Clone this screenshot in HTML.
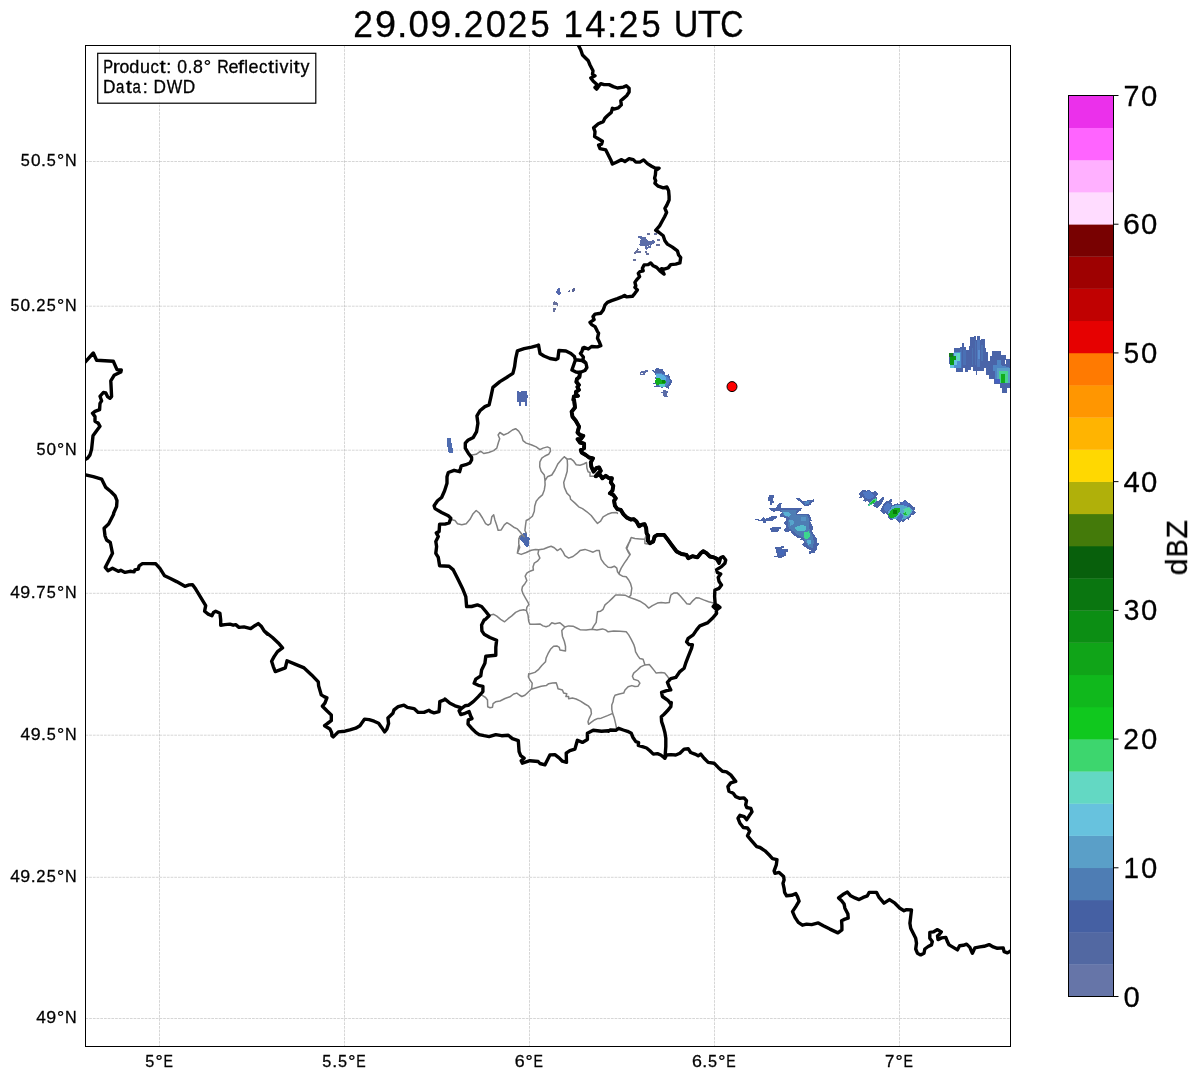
<!DOCTYPE html>
<html><head><meta charset="utf-8"><title>Radar</title>
<style>html,body{margin:0;padding:0;background:#fff}svg{display:block}text{font-family:"Liberation Sans",sans-serif;fill:#000;stroke:#000;stroke-width:.3px}.t{opacity:.999}</style></head><body>
<svg width="1202" height="1081" viewBox="0 0 1202 1081">
<rect width="1202" height="1081" fill="#fff"/>
<defs><clipPath id="ax"><rect x="85.5" y="45.5" width="925.0" height="1001.0"/></clipPath></defs>
<path d="M159.5 45.5V1046.5M344.5 45.5V1046.5M529.5 45.5V1046.5M714.5 45.5V1046.5M899.5 45.5V1046.5M85.5 161.5H1010.5M85.5 306.2H1010.5M85.5 450.2H1010.5M85.5 593.3H1010.5M85.5 735.2H1010.5M85.5 877.3H1010.5M85.5 1018.5H1010.5" stroke="#808080" stroke-width="0.65" stroke-dasharray="2.7 1.0" fill="none" opacity="0.5"/>
<g clip-path="url(#ax)">
<g shape-rendering="crispEdges"><polygon points="949.0,353.0 954.3,353.0 954.3,348.0 960.0,348.0 960.0,347.3 962.0,347.3 962.0,343.0 964.0,343.0 964.0,347.3 966.0,347.3 966.0,350.3 969.3,350.3 969.3,346.0 970.3,346.0 970.3,337.0 974.0,337.0 974.0,336.0 976.0,336.0 976.0,340.0 977.3,340.0 977.3,336.0 980.0,336.0 980.0,340.0 981.3,340.0 981.3,339.0 984.6,339.0 984.6,348.0 986.0,348.0 986.0,352.0 988.0,352.0 988.0,361.3 990.0,361.3 990.0,356.0 992.0,356.0 992.0,351.0 1001.0,351.0 1001.0,355.0 1006.0,355.0 1006.0,359.0 1011.3,359.0 1011.3,388.0 1006.6,388.0 1006.6,392.6 1002.0,392.6 1002.0,387.6 1000.3,387.6 1000.3,383.6 994.3,383.6 994.3,378.6 989.3,378.6 989.3,374.6 986.3,374.6 986.3,368.0 984.0,368.0 984.0,370.6 977.0,370.6 977.0,374.6 976.0,374.6 976.0,370.6 973.3,370.6 973.3,367.0 971.0,367.0 971.0,370.0 968.0,370.0 968.0,371.6 965.0,371.6 965.0,368.0 963.0,368.0 963.0,371.6 956.3,371.6 956.3,368.0 950.0,368.0 950.0,364.0 949.0,364.0" fill="#4A64A8"/><polygon points="1005.0,360.0 1006.1,360.0 1006.1,364.3 1005.0,364.3" fill="#fff"/><polygon points="974.6,341.3 976.3,341.3 976.3,365.3 974.6,365.3" fill="#4C72B2"/><polygon points="977.3,340.0 980.0,340.0 980.0,366.6 977.3,366.6" fill="#5078BC"/><polygon points="978.3,350.0 980.0,350.0 980.0,358.6 978.3,358.6" fill="#5A8ED0"/><polygon points="981.3,344.7 982.6,344.7 982.6,361.3 981.3,361.3" fill="#4C72B2"/><polygon points="960.0,348.7 962.0,348.7 962.0,368.0 960.0,368.0" fill="#4A70B4"/><polygon points="963.3,350.0 966.0,350.0 966.0,365.3 963.3,365.3" fill="#4A70B4"/><polygon points="972.0,348.0 973.3,348.0 973.3,365.3 972.0,365.3" fill="#4C72B2"/><polygon points="954.3,352.0 960.7,352.0 960.7,368.0 954.3,368.0" fill="#4F8FD0"/><polygon points="955.0,352.7 960.0,352.7 960.0,361.3 955.0,361.3" fill="#63D8C3"/><polygon points="954.3,353.3 956.7,353.3 956.7,365.3 954.3,365.3" fill="#67C2DE"/><polygon points="950.0,364.3 954.3,364.3 954.3,368.3 950.0,368.3" fill="#67C2DE"/><polygon points="949.0,353.0 953.3,353.0 953.3,356.0 956.0,356.0 956.0,360.0 954.3,360.0 954.3,364.6 950.0,364.6 950.0,356.6 949.0,356.6" fill="#0B9A14"/><polygon points="949.0,353.0 953.3,353.0 953.3,356.6 949.0,356.6" fill="#157A1C"/><polygon points="992.6,365.3 996.6,365.3 996.6,360.0 1001.3,360.0 1001.3,365.3 1011.3,368.0 1011.3,383.3 998.6,383.3 998.6,379.3 994.6,379.3 994.6,370.6 992.6,370.6" fill="#4F86C4"/><polygon points="996.6,368.0 1010.6,368.0 1010.6,383.3 996.6,383.3" fill="#5A9FC8"/><polygon points="999.0,370.6 1007.6,370.6 1007.6,383.3 999.0,383.3" fill="#48D490"/><polygon points="1001.3,374.0 1005.2,374.0 1005.2,383.3 1001.3,383.3" fill="#12AE1C"/><polygon points="995.3,379.3 1000.0,379.3 1000.0,383.3 995.3,383.3" fill="#4560C0"/><polygon points="769.0,495.3 773.7,495.3 773.7,498.0 772.7,498.0 772.7,501.3 773.7,501.3 773.7,502.7 771.7,502.7 771.7,504.7 770.0,504.7 770.0,501.3 768.3,501.3 768.3,497.3 769.0,497.3" fill="#4A64A8"/><polygon points="796.3,498.0 799.3,498.0 801.3,499.3 802.6,500.7 806.6,500.7 808.0,500.0 812.0,499.7 814.0,499.3 814.6,501.0 812.0,502.3 810.6,504.7 808.6,506.0 806.0,506.3 803.3,505.3 802.0,503.3 800.6,501.7 798.0,500.7 796.3,499.0" fill="#4A64A8"/><polygon points="804.0,501.7 810.0,501.0 808.6,504.0 805.3,504.7" fill="#4F86C4"/><polygon points="769.3,508.3 776.0,508.3 777.3,504.7 779.3,503.3 781.6,503.3 781.3,505.7 780.6,508.0 801.6,508.0 801.3,510.7 798.0,512.0 796.6,514.3 808.6,514.3 811.0,517.3 811.6,520.6 810.0,521.3 811.3,524.0 813.3,527.3 813.6,529.3 812.0,530.6 814.0,534.6 816.6,538.6 816.6,542.6 818.6,543.3 818.6,545.3 816.6,546.0 817.6,550.0 815.6,550.6 814.6,553.3 809.3,553.6 809.3,551.3 811.3,550.3 807.3,548.6 804.6,546.6 802.0,544.6 804.0,542.6 803.3,540.6 800.0,540.0 802.0,537.6 796.6,537.6 795.3,536.0 792.6,534.6 791.3,532.3 790.0,530.0 789.3,532.0 786.0,532.3 784.3,530.6 784.3,529.3 786.0,528.0 786.0,525.3 784.3,524.0 784.3,522.3 786.3,520.3 786.0,518.6 783.3,517.3 779.3,516.3 780.0,514.3 782.0,512.0 778.6,511.0 776.0,511.0 774.3,512.3 772.7,511.3 770.7,510.0 769.3,509.0" fill="#4A64A8"/><polygon points="781.3,510.0 796.6,510.0 796.0,514.6 807.3,515.3 809.3,520.0 808.6,525.3 810.0,530.6 812.0,534.6 814.0,541.3 812.6,548.0 808.6,546.6 806.0,542.6 803.3,537.3 796.6,534.6 792.6,530.6 788.6,528.0 788.0,521.3 790.0,518.0 784.6,516.0 782.0,512.7" fill="#4E7DB4"/><polygon points="783.3,512.0 788.6,511.7 790.6,514.6 788.6,516.6 784.6,515.6" fill="#58B0D4"/><polygon points="801.3,517.0 805.6,517.0 805.6,520.6 801.3,520.6" fill="#5694C4"/><polygon points="789.3,520.0 793.3,520.0 794.0,524.0 790.0,526.0" fill="#56A4CC"/><polygon points="794.0,528.0 798.0,526.0 803.3,524.6 806.3,527.0 806.3,530.3 802.0,531.0 797.0,531.0" fill="#54BCCC"/><polygon points="804.0,532.0 809.3,531.3 810.0,536.0 808.0,539.3 804.6,538.6" fill="#3DD68E"/><polygon points="806.6,540.3 811.0,540.3 811.3,543.6 808.3,544.6" fill="#58B0D4"/><polygon points="755.3,519.0 758.7,519.0 760.0,520.0 762.0,518.6 763.0,517.3 764.3,517.3 765.0,518.6 767.3,518.3 771.3,516.3 776.6,516.3 776.6,518.3 774.7,519.3 773.3,520.6 769.3,520.6 766.0,521.3 765.7,522.6 763.3,522.6 762.7,521.0 760.0,521.3 758.0,520.6 758.0,519.6 755.3,519.6" fill="#4A64A8"/><polygon points="770.3,528.0 772.7,527.3 780.6,527.3 780.6,528.6 778.6,529.3 778.6,531.3 776.0,532.3 771.3,532.3 771.3,530.6 770.3,530.0" fill="#4A64A8"/><polygon points="775.3,547.3 779.3,547.3 781.3,546.3 783.6,546.3 783.6,547.6 782.0,548.3 782.6,549.3 787.6,549.3 787.6,551.6 786.0,552.0 786.0,556.0 783.3,556.6 781.3,558.3 778.6,558.3 777.3,557.3 774.3,557.0 774.3,556.0 776.6,555.6 776.6,553.3 775.6,551.3 775.6,549.3" fill="#4A64A8"/><polygon points="778.0,550.0 784.6,550.0 784.0,554.6 779.3,555.3" fill="#4468B8"/><polygon points="859.3,493.3 862.0,490.3 865.3,490.3 866.7,491.3 867.7,490.0 869.7,490.0 872.0,492.3 874.3,491.3 876.3,491.3 877.6,493.3 877.6,495.3 876.3,496.7 877.3,498.0 876.6,499.3 878.0,501.3 881.3,498.7 883.0,497.0 884.0,497.7 884.0,499.3 882.6,501.6 881.0,504.6 879.3,506.6 877.0,508.6 875.3,507.3 873.3,506.0 873.7,504.0 871.3,504.6 868.7,506.6 868.0,505.3 869.3,503.0 867.3,501.3 864.7,501.6 863.3,500.7 864.3,499.0 862.3,497.3 860.0,498.7 859.0,497.7 860.7,496.0 859.3,494.7" fill="#4A64A8"/><polygon points="862.7,492.0 869.3,491.3 874.7,496.0 870.0,499.3 865.3,498.0" fill="#4F78C4"/><polygon points="868.0,505.6 869.3,503.0 872.0,500.0 875.3,498.3 877.0,499.7 876.0,502.0 873.3,503.6 870.7,505.0 869.0,506.6" fill="#48D490"/><polygon points="869.3,504.3 872.0,501.0 875.3,499.3 875.6,501.3 873.0,503.0 870.3,504.6" fill="#1CBE30"/><polygon points="880.3,510.6 882.0,507.3 884.0,503.3 886.3,500.7 888.3,501.6 890.0,499.3 892.0,499.3 892.6,501.3 891.3,502.6 892.6,505.3 895.3,504.0 897.3,503.3 899.3,504.6 900.6,502.0 902.6,501.6 905.0,500.0 906.6,500.7 908.6,502.6 911.3,504.6 913.0,506.6 915.0,507.0 915.0,509.3 914.0,510.6 916.0,512.0 915.6,513.3 913.6,514.6 911.3,515.3 910.0,517.3 908.6,519.6 906.6,519.0 905.3,520.0 903.3,522.0 901.6,521.3 899.3,523.0 897.6,521.3 896.0,519.6 894.0,518.6 891.3,520.6 889.3,519.3 887.3,517.3 888.0,515.3 886.0,513.0 883.3,514.0 881.3,512.3" fill="#4A64A8"/><polygon points="883.3,508.0 887.3,502.6 891.3,504.6 890.0,509.3 886.0,512.0" fill="#4F78C4"/><polygon points="888.0,512.0 892.6,506.0 898.0,504.6 903.3,505.3 910.0,507.3 912.6,510.6 910.0,515.3 906.0,518.6 900.6,520.0 896.6,518.6 892.6,518.6 889.3,516.6" fill="#54A8CC"/><polygon points="900.6,502.6 906.0,501.3 910.0,505.3 904.6,506.0" fill="#4A6CC0"/><polygon points="896.6,518.6 900.6,513.3 903.3,516.0 900.6,521.3" fill="#4A6CC0"/><polygon points="903.3,509.3 908.6,507.3 911.3,510.6 908.6,515.3 904.6,516.6" fill="#50D8A0"/><polygon points="888.3,514.6 891.3,510.0 895.3,507.6 899.6,508.3 899.6,512.0 897.0,515.6 893.3,518.3 890.0,517.6" fill="#14AE20"/><polygon points="892.6,510.3 897.0,510.3 897.0,514.3 892.6,514.3" fill="#067A08"/><polygon points="903.3,513.3 906.0,512.3 906.6,514.6 904.0,515.6" fill="#20B838"/><polygon points="640.0,372.5 641.5,371.2 644.5,370.7 647.5,370.0 647.7,371.5 646.0,372.5 644.7,374.5 642.0,375.0 640.7,375.7 640.0,375.0" fill="#5A6CA8"/><polygon points="641.2,372.7 642.5,372.7 642.5,374.0 641.2,374.0" fill="#fff"/><polygon points="652.2,370.2 653.5,370.0 654.7,371.7 655.5,369.0 657.0,368.0 659.0,368.2 660.0,369.2 662.7,369.2 663.0,371.0 664.5,372.0 665.2,374.5 667.0,375.0 668.5,374.2 669.0,376.0 670.0,376.5 669.7,378.0 670.7,378.7 670.5,380.0 671.7,380.5 672.0,382.5 671.0,384.0 669.5,385.5 669.0,387.0 668.5,388.7 667.0,388.2 666.0,387.2 664.0,387.0 663.0,387.7 660.5,387.5 659.5,386.5 656.5,386.5 654.5,386.7 654.2,386.0 656.0,385.5 655.5,383.5 653.2,383.5 655.0,382.7 655.2,381.0 656.0,379.5 654.5,378.5 654.5,377.2 655.7,376.7 655.5,375.0 654.5,374.5 654.5,373.0 653.0,371.7" fill="#4A64A8"/><polygon points="656.0,373.0 660.0,372.5 664.5,374.5 668.0,377.0 670.0,381.0 668.0,385.0 665.0,386.5 659.0,386.0 656.0,380.0" fill="#4F80C8"/><polygon points="656.0,374.5 660.0,373.5 664.0,375.5 666.0,378.0 666.0,380.0 656.0,379.0" fill="#5AB0E0"/><polygon points="658.5,383.5 665.0,383.5 664.5,387.0 660.0,387.0" fill="#58C8C8"/><polygon points="656.0,378.0 659.0,377.7 661.0,379.7 665.0,380.0 665.7,382.0 665.0,384.0 662.0,383.5 659.0,384.5 657.0,385.5 655.5,383.5 655.2,381.0" fill="#12AE1C"/><polygon points="661.5,380.2 665.0,380.2 665.0,383.1 661.5,383.1" fill="#068A08"/><polygon points="662.5,390.2 665.5,390.2 666.0,391.2 667.7,391.5 667.7,392.5 666.7,393.0 666.7,395.7 667.7,396.2 667.5,397.0 665.7,397.2 665.0,397.7 664.0,397.2 663.2,395.0 662.7,393.2 661.2,393.0 661.2,392.2 662.5,391.7" fill="#5A6CA8"/><polygon points="638.2,236.2 641.5,236.2 642.2,237.2 645.5,237.2 646.0,238.7 647.0,240.0 649.0,241.2 651.2,241.0 652.5,239.5 654.0,239.5 654.7,241.0 654.7,242.5 653.5,243.5 652.2,244.7 651.0,246.0 651.0,247.5 648.5,248.0 647.0,249.5 645.5,249.5 645.2,247.0 644.0,246.0 642.0,245.5 641.0,246.7 639.5,245.5 639.2,244.5 640.5,243.2 640.2,241.0 641.0,239.0 640.0,238.2 638.2,238.5" fill="#5A6CA8"/><polygon points="647.0,246.0 648.2,246.0 648.2,247.2 647.0,247.2" fill="#fff"/><polygon points="649.0,245.0 650.0,245.0 650.0,246.0 649.0,246.0" fill="#fff"/><polygon points="647.2,232.5 649.7,232.5 649.7,234.5 647.2,234.5" fill="#66709C"/><polygon points="654.2,233.2 656.5,233.2 656.5,235.2 654.2,235.2" fill="#66709C"/><polygon points="657.0,239.2 659.7,239.2 659.7,240.7 657.0,240.7" fill="#66709C"/><polygon points="656.2,244.2 659.7,244.2 659.7,245.7 656.2,245.7" fill="#66709C"/><polygon points="644.5,251.2 646.7,251.2 646.7,252.5 644.5,252.5" fill="#66709C"/><polygon points="646.2,253.2 648.7,253.2 648.7,254.7 646.2,254.7" fill="#66709C"/><polygon points="633.2,259.2 635.7,259.2 635.7,260.7 633.2,260.7" fill="#66709C"/><polygon points="634.2,252.0 636.5,250.0 637.7,248.2 638.7,248.7 638.2,251.0 640.7,251.2 640.7,252.7 635.7,252.7 635.5,253.7 634.2,253.7" fill="#66709C"/><polygon points="557.2,289.2 558.2,288.2 559.7,288.2 560.0,291.5 561.0,292.5 560.5,294.0 559.2,294.7 557.5,294.5 556.2,293.0 556.2,291.5" fill="#5468AE"/><polygon points="568.2,291.2 569.5,290.2 570.7,290.7 570.0,292.2 568.7,292.7" fill="#5A6496"/><polygon points="572.2,289.5 573.5,288.2 574.7,288.5 575.0,290.2 573.7,291.7 572.5,291.7" fill="#5A6496"/><polygon points="553.2,302.2 554.7,301.2 556.0,302.0 557.5,302.7 557.7,305.5 557.0,306.0 555.5,304.5 553.2,304.5" fill="#66709C"/><polygon points="553.2,308.5 555.7,308.2 555.7,310.0 554.7,311.5 553.2,311.7" fill="#66709C"/><polygon points="516.5,391.1 519.0,391.1 519.0,392.4 520.5,392.4 520.5,391.1 527.0,391.1 527.0,394.9 528.0,394.9 528.0,397.9 527.0,397.9 527.0,405.9 525.0,405.9 525.0,401.9 521.0,401.9 521.0,405.9 519.0,405.9 519.0,402.4 517.0,402.4 517.0,398.9 516.5,398.9" fill="#5068AC"/><polygon points="447.2,438.1 450.6,438.1 451.0,443.1 452.2,443.7 452.5,448.1 453.1,452.5 448.7,453.5 448.1,449.3 447.2,445.0" fill="#4E6CB0"/><polygon points="518.7,536.1 521.8,534.9 525.5,531.8 526.8,533.7 527.4,536.8 530.5,538.6 528.7,541.8 528.7,546.1 526.8,547.4 523.7,543.6 521.2,540.5 518.9,538.6" fill="#4A68AE"/></g>
<path d="M471.8 455.0 L476.2 454.3 L480.6 451.2 L483.7 453.5 L488.7 452.5 L493.7 450.6 L496.8 448.1 L498.4 442.5 L499.7 438.7 L498.1 435.0 L499.9 432.5 L503.7 435.0 L508.1 433.1 L512.4 430.0 L515.6 428.7 L518.7 431.2 L521.8 436.2 L523.0 440.6 L526.2 443.1 L531.2 444.7 L536.2 446.9 L539.9 449.7 L543.0 448.1 L547.4 446.9 L550.1 448.1 L550.5 451.2 L548.6 454.3 L544.9 456.0 L541.8 458.1 L539.9 461.8 L539.7 466.8 L541.2 471.2 L544.3 475.0 L544.9 479.9 L545.1 484.9 L544.3 489.9 L542.4 494.9 L538.7 498.1 L536.2 501.2 L534.7 506.2 L534.3 511.2 L532.4 516.2 L528.7 519.3 L526.2 520.5 L525.5 525.5 L524.9 530.5 L526.2 533.0 M545.1 480.6 L547.4 476.8 L551.8 475.0 L554.9 470.0 L558.0 463.7 L561.8 459.3 L564.3 456.8 L567.4 459.0 M451.9 519.7 L455.0 520.5 L457.5 523.7 L461.8 524.7 L466.2 523.7 L470.0 519.3 L473.1 513.7 L476.2 510.5 L479.3 513.0 L482.5 518.0 L485.6 523.7 L488.1 525.2 L490.6 523.7 L491.8 516.8 L493.7 514.9 L494.9 519.9 L496.8 525.5 L498.1 530.2 L501.2 529.9 L504.3 524.9 L506.8 522.7 L509.9 524.3 L513.7 527.2 L517.4 528.9 L519.9 531.8 L522.4 534.9 L524.3 536.8 M520.5 535.5 L518.9 538.6 L518.7 543.6 L519.7 547.4 L518.0 551.8 M567.2 459.3 L567.5 465.0 L567.2 471.2 L565.6 476.8 L563.7 482.4 L564.4 487.4 L566.9 493.1 L570.0 496.2 L570.6 499.3 L575.0 503.1 L578.7 506.8 L582.5 508.7 L586.9 511.8 L591.2 515.5 L595.0 520.5 L597.5 523.4 L600.6 521.2 L603.1 516.8 L607.5 514.3 L611.8 512.7 L616.8 512.4 L617.4 513.4 M564.4 456.8 L566.9 459.3 L570.6 458.7 L573.7 461.2 L576.2 464.7 L580.0 465.2 L583.7 464.0 L586.5 462.5 L586.9 468.1 L588.1 471.8 L590.0 472.5 L590.0 476.2 L594.3 476.2 M646.2 534.9 L644.9 539.3 L639.9 538.9 L634.9 538.4 L631.2 537.6 L629.3 541.8 L627.4 545.5 L626.2 548.0 L628.1 551.8 L629.9 555.0 M644.9 539.3 L644.9 543.6 L647.4 543.9 M518.9 545.0 L517.7 551.2 L517.4 553.1 L521.2 554.4 L526.2 552.5 L531.2 550.2 L535.5 549.4 L538.7 549.7 L543.7 549.0 L548.0 547.2 L551.1 546.2 L554.3 547.7 L557.4 550.6 L560.5 548.5 L563.0 551.9 L564.9 555.6 L568.6 558.1 L573.0 556.5 L576.7 553.7 L580.0 550.6 M538.7 550.0 L538.0 553.7 L539.9 558.1 L537.4 561.2 L534.3 563.1 L533.0 566.9 L533.4 570.0 L529.9 571.2 L526.8 573.1 L525.2 576.2 L526.8 580.6 L524.9 583.7 L522.4 586.8 L521.8 590.0 L523.0 593.7 L525.5 598.1 L528.0 602.4 L528.9 604.3 L526.8 607.4 L526.4 610.6 L528.0 614.9 L528.7 621.2 L529.9 624.3 L534.9 624.3 L539.9 623.9 L543.0 625.9 L546.1 626.8 L549.3 625.6 L551.8 622.7 L554.9 623.7 L559.9 622.7 L562.4 624.9 L564.9 627.0 L568.6 625.9 L573.0 626.2 L576.7 628.0 L580.0 629.7 M489.7 615.3 L493.7 614.3 L496.8 616.2 L500.6 619.3 L504.6 621.8 L508.1 618.7 L511.8 615.9 L515.6 612.4 L519.3 610.6 L523.7 609.7 L526.4 610.6 M564.9 627.0 L561.8 630.5 L562.4 636.2 L564.3 641.2 L565.5 646.2 L565.5 650.9 L559.9 649.9 L559.3 647.4 L556.8 645.9 L553.6 646.2 L550.5 649.3 L548.0 653.7 L546.1 658.0 L545.5 661.8 L541.8 665.5 L538.7 669.3 L534.9 672.4 L528.7 674.3 M580.0 550.6 L585.0 549.4 L588.7 550.6 L593.1 552.2 L596.2 550.6 L599.3 550.6 L600.0 555.0 L601.2 559.4 L604.3 563.7 L608.1 567.2 L611.2 567.5 L614.3 566.2 L616.8 568.1 L617.5 571.8 L619.3 574.3 L622.5 576.2 L626.2 576.8 L628.7 580.0 L630.6 583.7 L631.8 588.1 L631.2 592.5 L630.9 595.0 L629.3 596.8 M630.6 540.0 L628.7 543.7 L626.8 548.7 L628.7 551.9 L630.2 554.4 L627.4 558.7 L624.3 563.1 L621.2 568.1 L619.3 572.5 L619.3 574.3 M591.9 629.3 L593.7 626.2 L596.2 622.4 L596.9 616.2 L597.5 611.8 L600.6 611.2 L603.1 609.3 L605.0 604.9 L608.7 601.8 L612.5 598.1 L615.6 595.0 L620.0 595.0 L625.0 595.2 L629.3 597.4 L634.9 599.3 L639.9 601.2 L644.9 604.3 L648.7 608.1 L652.4 605.6 L657.4 603.1 L661.2 602.4 L665.5 603.1 L669.3 602.4 L669.9 598.7 L670.9 595.0 L673.7 593.1 L677.4 593.1 L680.5 596.2 L683.7 599.9 L686.8 603.7 L689.9 604.3 L693.0 600.6 L696.1 597.7 L699.3 598.1 L703.6 599.9 L708.6 601.8 L713.6 603.1 M580.0 629.7 L586.2 629.9 L591.9 629.3 L596.9 629.9 L602.5 628.9 L605.6 629.9 L608.1 631.8 L613.7 630.9 L620.0 631.2 L626.2 631.8 L628.7 634.9 L631.2 639.3 L633.7 644.3 L634.9 648.0 L635.6 651.8 L638.1 656.1 L639.9 658.6 L643.1 659.3 L644.3 663.0 L644.9 664.9 M528.7 673.7 L528.4 676.9 L529.9 680.0 L532.2 683.1 L531.8 687.5 L531.2 689.3 M481.8 695.2 L485.6 697.5 L487.5 700.0 L487.7 706.8 L490.0 707.7 L492.5 707.2 L493.1 703.7 L495.6 701.8 L500.0 701.0 L505.0 698.5 L509.9 696.8 L513.7 694.0 L516.8 693.1 L519.3 695.0 L521.8 696.5 L524.9 695.2 L528.1 692.2 L531.2 689.3 L536.2 687.7 L541.2 686.2 L546.2 685.6 L548.7 683.7 L552.4 683.1 L556.2 682.7 L557.4 686.2 L558.0 688.7 L562.4 690.0 L563.7 693.1 L566.8 693.7 L565.9 696.5 L568.6 696.5 L568.6 698.7 L572.4 698.1 L576.1 699.0 L580.5 701.2 L584.9 704.0 L588.6 706.2 L590.9 709.3 L591.4 713.7 L589.3 718.1 L588.0 721.8 L588.6 724.3 L591.1 722.4 L594.9 719.7 L598.0 718.4 L600.0 718.4 M668.7 680.6 L669.3 679.3 L667.4 676.2 L664.7 673.1 L661.2 672.5 L656.2 673.1 L654.3 670.6 L651.8 667.5 L649.3 664.6 L644.9 664.9 L640.6 666.9 L637.4 670.0 L633.7 673.1 L632.4 676.2 L633.7 679.3 L638.1 680.6 L639.9 683.1 L638.1 686.2 L634.9 686.5 L631.8 685.6 L628.1 686.8 L625.0 690.0 L623.7 693.1 L619.3 694.0 L615.0 695.2 L613.7 698.1 L613.1 701.8 L611.8 705.0 L611.8 709.3 L612.7 713.4 L614.3 718.1 L615.6 723.7 L616.5 728.1 M612.7 713.4 L607.5 715.6 L601.2 718.1" fill="none" stroke="#808080" stroke-width="1.5" stroke-linejoin="round" stroke-linecap="round"/>
<path d="M577.5 43.3 L580.8 50.0 L582.5 55.0 L585.0 57.5 L588.3 60.8 L590.0 65.0 L593.0 70.8 L592.5 74.1 L595.0 75.8 L590.8 78.0 L593.3 81.3 L597.5 85.0 L595.0 87.5 L596.6 89.1 L599.1 85.8 L600.8 83.6 L604.1 84.6 L609.1 84.6 L613.3 86.6 L617.4 88.0 L623.3 87.1 L626.3 85.8 L629.1 88.3 L629.1 92.0 L626.6 95.8 L623.3 98.6 L620.8 100.8 L621.3 104.9 L618.3 107.9 L614.1 109.1 L612.4 108.3 L611.3 112.4 L607.4 115.8 L604.9 118.3 L603.3 121.6 L598.3 123.8 L593.6 127.9 L595.0 131.6 L594.6 136.6 L597.5 138.3 L602.4 141.2 L601.6 144.1 L598.6 145.2 L600.0 148.6 L605.8 149.9 L608.3 154.9 L610.8 159.9 L612.4 164.1 L615.8 162.4 L621.6 159.6 L624.9 161.6 L629.1 158.6 L633.3 159.6 L635.8 162.1 L639.9 162.1 L643.6 159.9 L647.4 163.6 L651.6 166.2 L654.9 167.9 L659.1 168.2 L655.7 170.7 L655.4 174.9 L654.6 178.2 L655.7 180.7 L654.9 183.2 L658.2 186.2 L663.2 187.9 L666.9 187.0 L668.6 190.7 L669.1 196.5 L669.1 200.0 L666.9 205.0 L664.9 208.3 L666.6 212.5 L664.6 216.7 L662.4 220.8 L659.6 225.8 L655.7 230.3 L659.1 232.5 L663.2 235.8 L664.9 240.8 L667.4 244.1 L672.4 247.1 L677.4 250.8 L678.6 255.0 L680.7 257.5 L679.9 262.9 L675.7 264.1 L670.7 264.6 L668.2 267.9 L664.1 269.1 L661.6 268.6 L664.1 274.1 L659.9 270.8 L656.6 267.4 L653.2 265.8 L650.7 262.9 L648.2 264.6 L644.1 264.9 L642.4 268.3 L643.2 270.8 L639.9 271.6 L638.3 273.3 L639.6 276.6 L636.6 279.9 L634.9 282.4 L635.8 285.8 L634.9 287.4 L637.4 289.9 L634.9 293.3 L632.4 296.3 L626.6 296.9 L624.9 295.4 L622.4 296.6 L617.4 298.6 L611.6 300.7 L607.4 302.4 L604.9 305.2 L603.3 309.9 L600.8 313.2 L595.0 314.1 L593.0 316.6 L594.1 319.6 L590.0 322.4 L591.6 324.6 L595.0 326.6 L597.5 331.6 L598.6 333.2 L597.5 338.2 L599.1 341.5 L600.8 345.7 L597.5 346.9 L591.6 346.5 L588.3 349.0 L584.1 347.4 L584.9 348.5 L582.9 348.0 L581.9 351.5 L580.4 353.5 L583.4 357.0 L582.9 360.0 L585.9 363.0 L586.9 367.5 L584.9 370.5 L579.9 372.5 L579.4 377.0 L576.9 379.0 L576.4 381.9 L578.9 384.9 L577.4 386.9 L578.9 389.9 L575.9 391.9 L575.9 393.9 L577.9 395.9 L573.9 396.4 L573.4 399.9 L574.1 400.0 L575.0 407.5 L571.6 411.7 L572.5 416.7 L575.8 420.8 L579.1 426.6 L577.5 432.5 L580.0 435.0 L583.3 435.8 L580.8 439.1 L577.5 439.1 L580.0 442.5 L584.1 443.6 L584.1 448.3 L580.8 450.0 L581.6 452.5 L585.8 455.0 L589.1 457.5 L593.0 458.3 L590.8 462.4 L591.3 466.6 L593.6 471.6 L596.6 467.9 L599.1 467.4 L600.8 470.8 L597.5 474.1 L595.8 476.3 L599.6 474.1 L602.4 478.3 L605.8 475.8 L609.1 478.3 L611.9 478.3 L610.8 482.4 L613.3 485.8 L612.4 490.8 L609.9 493.3 L613.3 494.9 L615.8 498.3 L614.1 500.7 L614.9 505.7 L617.4 509.1 L620.8 509.9 L623.3 514.1 L626.6 517.4 L630.8 519.6 L633.6 519.1 L636.6 521.6 L639.1 526.2 L641.9 524.6 L644.6 524.1 L646.2 528.2 L646.6 533.2 L648.2 535.7 L647.9 540.7 L649.9 543.2 L653.2 541.5 L654.6 536.6 L657.4 534.9 L664.1 534.9 L667.4 539.1 L671.6 544.9 L676.6 551.5 L681.5 554.0 L686.5 554.9 L688.2 558.2 L692.4 556.2 L697.4 557.4 L700.7 553.2 L703.2 551.2 L706.5 553.2 L709.9 556.5 L714.0 557.4 L717.4 559.0 L716.9 559.7 L719.1 563.3 L720.7 557.5 L723.2 556.7 L725.7 560.0 L724.9 563.3 L721.5 566.6 L716.6 569.6 L717.4 572.5 L720.7 574.1 L718.2 577.5 L719.1 581.6 L721.5 585.0 L719.1 588.3 L714.9 590.0 L714.6 596.6 L715.2 604.1 L713.2 606.6 L716.6 609.9 L719.9 607.4 L717.4 605.3 L715.7 606.6 L716.6 613.3 L712.4 618.3 L707.4 622.9 L699.9 625.8 L696.6 629.9 L693.2 634.9 L688.2 638.3 L686.6 641.9 L689.1 644.6 L692.4 644.6 L691.6 648.2 L688.2 656.6 L685.7 663.2 L684.1 668.2 L679.9 671.6 L675.8 677.4 L670.8 678.6 L667.4 682.4 L669.1 686.5 L670.8 689.9 L666.6 690.7 L661.6 692.4 L662.4 696.5 L668.3 700.7 L670.8 704.0 L671.3 702.5 L670.8 706.7 L667.4 710.8 L664.1 714.2 L661.3 716.7 L661.6 721.6 L663.3 726.6 L664.9 732.5 L665.8 738.3 L665.8 746.6 L665.3 753.3 L664.9 758.3 M664.9 758.3 L660.8 755.0 L657.4 753.6 L653.3 754.1 L649.9 750.8 L646.6 748.0 L642.4 746.6 L638.3 745.3 L638.6 742.5 L635.8 741.6 L633.0 737.5 L631.3 733.3 L627.5 731.3 L623.3 730.0 L618.6 728.3 L615.8 730.3 L610.0 730.0 L608.3 731.3 L608.2 730.7 L601.5 731.2 L593.2 730.2 L587.4 733.2 L587.4 739.6 L582.4 742.4 L577.4 740.2 L574.9 749.1 L569.9 750.7 L566.2 753.2 L566.5 762.4 L562.4 761.2 L559.1 757.9 L554.9 754.6 L549.9 754.9 L547.4 759.9 L544.9 764.9 L539.9 763.5 L538.2 761.5 L529.9 760.7 L522.4 763.2 L521.2 760.7 L524.1 758.2 L520.7 755.7 L519.1 751.6 L518.3 740.7 L512.4 738.6 L508.3 735.2 L501.6 735.7 L495.8 734.6 L489.1 736.6 L484.1 735.7 L479.1 734.6 L475.8 732.4 L471.6 728.2 L468.0 724.1 L468.3 719.9 L472.0 718.6 L470.8 716.3 L469.1 711.6 L465.0 713.3 L460.8 714.6 L459.1 710.8 L461.6 708.3 L465.0 705.8 L468.3 705.3 L473.3 701.6 L478.3 696.6 L482.9 691.6 L482.9 686.3 L478.3 685.3 L474.1 683.3 L475.8 679.1 L480.8 675.8 L481.6 670.0 L484.9 663.3 L485.8 656.3 L495.8 655.3 L495.8 647.5 L496.6 640.3 L489.9 637.5 L484.1 634.2 L481.9 630.8 L481.6 625.0 L484.1 620.0 L484.9 619.9 L489.1 615.7 L485.8 611.5 L481.6 606.5 L477.4 604.9 L471.6 606.5 L466.6 606.5 L465.8 596.6 L462.4 588.2 L457.5 578.2 L453.3 569.9 L449.1 566.2 L439.6 565.7 L438.3 557.4 L435.8 553.3 L436.6 546.6 L435.8 541.6 L438.3 536.6 L436.3 532.9 L439.1 531.6 L439.6 524.1 L445.0 524.1 L449.1 522.9 L450.8 518.3 L448.3 515.8 L441.6 512.5 L435.0 508.6 L434.1 505.8 L437.5 500.8 L441.6 497.5 L444.6 490.8 L447.0 483.3 L447.0 476.7 L448.3 472.5 L454.1 470.3 L459.6 471.7 L461.3 465.8 L465.8 464.7 L469.9 463.0 L471.6 460.0 L471.6 457.4 L468.3 453.2 L465.3 448.2 L465.3 443.2 L468.3 439.9 L473.3 437.4 L476.6 431.6 L477.9 423.2 L476.9 415.8 L479.9 410.8 L484.9 406.6 L489.1 404.9 L490.8 397.4 L492.9 387.4 L499.9 381.6 L506.6 377.5 L512.9 373.3 L514.6 366.6 L515.7 358.3 L517.4 350.8 L524.1 348.6 L531.6 347.1 L538.2 345.3 L538.5 345.0 L540.0 353.5 L544.0 356.0 L550.0 358.5 L555.9 359.5 L557.9 358.5 L558.9 350.5 L565.9 351.0 L570.9 353.5 L574.4 356.5 L575.4 360.0 L571.9 370.0 L575.9 372.0 L579.9 372.5 L584.9 370.5 L586.9 367.5 L585.9 363.0 L581.9 360.5 L577.9 360.0 L575.4 360.0 M664.9 758.3 L666.6 755.0 L670.8 754.6 L675.8 755.0 L679.9 753.3 L684.1 749.1 L688.2 748.8 L690.7 752.5 L694.9 754.1 L698.2 755.8 L700.7 754.1 L704.1 758.3 L708.2 762.4 L714.1 763.3 L718.2 767.4 L722.4 771.3 L726.5 771.9 L730.7 774.9 L734.0 779.1 L735.7 781.3 L730.7 782.9 L727.9 786.6 L729.0 791.3 L733.2 793.3 L735.7 796.6 L739.9 798.3 L744.0 797.9 L746.5 800.7 L745.7 804.9 L746.7 807.5 L750.8 808.3 L752.0 811.7 L749.2 815.8 L746.7 819.7 L744.2 816.7 L740.0 815.3 L738.0 818.3 L740.0 823.3 L743.3 827.5 L747.5 828.0 L749.7 831.3 L747.5 835.8 L751.7 840.8 L756.7 846.6 L760.0 847.5 L765.0 850.8 L770.0 855.8 L772.5 858.6 L777.0 859.6 L776.3 864.9 L774.1 870.8 L775.0 873.3 L779.1 872.4 L783.6 876.6 L784.1 879.9 L783.0 883.3 L784.1 888.3 L784.6 892.4 L786.6 895.8 L791.6 895.3 L795.8 893.6 L797.5 896.6 L799.1 901.2 L795.8 906.6 L792.5 911.6 L795.0 917.4 L798.3 922.4 L802.4 925.2 L806.6 924.1 L811.6 924.6 L818.3 922.9 L823.3 925.7 L829.9 929.1 L837.9 932.9 L841.9 929.9 L841.9 925.7 L841.6 920.7 L844.9 919.1 L848.2 918.2 L847.9 914.1 L844.9 908.2 L844.1 904.1 L841.6 900.7 L838.6 897.9 L842.9 894.6 L847.4 892.1 L850.7 895.8 L854.9 897.9 L859.1 899.6 L863.2 897.4 L867.4 895.8 L869.1 892.4 L876.6 892.4 L879.1 897.4 L884.0 903.2 L889.5 899.6 L894.9 903.2 L899.9 908.2 L904.0 910.7 L906.5 909.6 L911.5 909.9 L910.7 916.6 L909.9 923.2 L910.7 928.2 L913.2 933.2 L915.7 938.2 L916.5 943.2 L915.7 949.0 L917.4 953.2 L920.7 954.9 L924.0 953.2 L924.8 949.0 L928.2 946.5 L931.5 944.9 L932.3 941.5 L929.8 938.2 L929.8 932.4 L933.3 931.9 L937.5 929.6 L941.3 931.9 L939.1 934.6 L937.5 935.8 L938.0 939.6 L941.6 937.9 L945.8 937.4 L947.4 941.6 L949.1 944.9 L953.3 947.4 L957.4 949.9 L959.6 945.8 L963.3 945.3 L966.6 944.1 L969.9 947.4 L971.3 950.8 L972.4 953.3 L974.9 947.9 L979.9 946.9 L984.1 946.3 L989.1 944.6 L993.2 946.9 L997.4 948.3 L1003.2 947.9 L1004.1 951.6 L1007.4 952.9 L1012.4 949.9 M82.5 365.0 L93.3 353.0 L96.6 360.3 L113.3 361.3 L117.0 369.6 L121.3 370.0 L120.8 372.0 L114.1 375.3 L110.8 380.8 L111.6 396.6 L110.0 398.3 L107.5 396.6 L105.8 393.0 L103.3 392.5 L100.0 396.3 L101.6 400.8 L100.0 403.3 L99.6 409.6 L95.0 411.3 L92.5 413.3 L95.0 416.6 L95.0 421.3 L98.3 423.3 L100.0 426.3 L96.6 430.8 L93.0 435.8 L91.6 449.1 L90.0 454.9 L87.5 458.2 L82.5 460.9 M82.5 474.2 L93.3 476.6 L101.6 479.1 L105.8 487.4 L110.8 491.5 L115.0 495.7 L117.0 500.7 L116.6 506.5 L113.6 513.2 L113.6 514.2 L108.6 524.1 L104.1 528.3 L105.0 535.8 L106.6 540.0 L110.3 542.5 L111.3 547.5 L112.5 553.3 L109.1 560.0 L105.3 567.4 L108.0 570.8 L112.5 568.3 L118.3 571.3 L120.8 570.3 L125.0 572.4 L130.0 571.3 L134.1 571.9 L134.9 569.9 L138.3 569.1 L139.1 565.8 L142.4 563.6 L149.9 563.6 L155.8 563.8 L159.9 568.3 L164.6 575.8 L169.9 578.3 L176.6 581.6 L184.9 586.3 L189.1 584.9 L192.4 584.6 L195.7 589.1 L200.7 597.4 L205.7 605.7 L204.6 611.2 L208.2 614.1 L211.9 615.7 L213.5 612.4 L215.7 611.2 L219.9 613.2 L220.7 619.9 L220.7 625.2 L224.9 624.6 L229.9 624.1 L233.2 625.2 L235.7 624.6 L239.0 627.4 L244.0 626.9 L250.7 628.6 L254.8 625.7 L258.2 623.6 L261.5 626.6 L264.0 630.7 L267.3 634.1 L265.0 631.6 L272.5 637.5 L278.3 642.9 L282.5 647.9 L277.5 651.6 L274.1 656.6 L271.6 661.3 L273.3 666.6 L275.3 671.6 L280.0 669.9 L285.3 667.9 L287.0 660.8 L295.0 664.1 L304.1 667.9 L311.6 674.9 L318.3 681.9 L318.6 685.7 L321.3 694.9 L324.1 696.6 L326.9 697.9 L324.9 703.2 L322.4 706.2 L326.9 710.7 L331.3 714.9 L331.3 720.7 L327.4 723.5 L324.6 725.7 L329.9 729.0 L331.6 732.4 L331.9 735.7 L333.3 736.9 L338.3 731.9 L344.9 731.2 L349.9 729.9 L355.7 728.2 L359.9 725.7 L364.6 719.1 L369.1 719.6 L374.1 721.2 L378.6 723.2 L381.6 727.4 L384.6 731.9 L386.9 729.0 L388.6 723.5 L387.9 717.9 L392.9 713.2 L394.0 709.9 L398.2 706.6 L404.0 705.2 L407.4 707.4 L414.0 708.6 L418.2 712.4 L424.0 712.4 L429.0 710.2 L430.7 711.6 L434.0 712.9 L439.0 711.6 L439.5 706.6 L439.8 701.6 L444.8 699.6 L445.0 699.1 L450.0 703.3 L455.0 705.8 L460.0 707.4 L461.6 708.6" fill="none" stroke="#000" stroke-width="3.4" stroke-linejoin="round" stroke-linecap="round"/><path d="M579.9 372.5 L579.4 377.0 L576.9 379.0 L576.4 381.9 L578.9 384.9 L577.4 386.9 L578.9 389.9 L575.9 391.9 L575.9 393.9 L577.9 395.9 L573.9 396.4 L573.4 399.9 L574.1 400.0 L575.0 407.5 L571.6 411.7 L572.5 416.7 L575.8 420.8 L579.1 426.6 L577.5 432.5 L580.0 435.0 L583.3 435.8 L580.8 439.1 L577.5 439.1 L580.0 442.5 L584.1 443.6 L584.1 448.3 L580.8 450.0 L581.6 452.5 L585.8 455.0 L589.1 457.5 L593.0 458.3 L590.8 462.4 L591.3 466.6 L593.6 471.6 L596.6 467.9 L599.1 467.4 L600.8 470.8 L597.5 474.1 L595.8 476.3 L599.6 474.1 L602.4 478.3 L605.8 475.8 L609.1 478.3 L611.9 478.3 L610.8 482.4 L613.3 485.8 L612.4 490.8 L609.9 493.3 L613.3 494.9 L615.8 498.3 L614.1 500.7 L614.9 505.7 L617.4 509.1 L620.8 509.9 L623.3 514.1 L626.6 517.4 L630.8 519.6 L633.6 519.1 L636.6 521.6 L639.1 526.2 L641.9 524.6 L644.6 524.1 L646.2 528.2 L646.6 533.2 L648.2 535.7 L647.9 540.7 L649.9 543.2 L653.2 541.5 L654.6 536.6 L657.4 534.9 L664.1 534.9 L667.4 539.1 L671.6 544.9 L676.6 551.5 L681.5 554.0 L686.5 554.9 L688.2 558.2 L692.4 556.2 L697.4 557.4 L700.7 553.2 L703.2 551.2 L706.5 553.2 L709.9 556.5 L714.0 557.4 L717.4 559.0" fill="none" stroke="#000" stroke-width="3.9" stroke-linejoin="round" stroke-linecap="round"/>
<circle cx="732" cy="386.6" r="5" fill="#f00" stroke="#000" stroke-width="1"/>
</g>
<rect x="85.5" y="45.5" width="925.0" height="1001.0" fill="none" stroke="#000" stroke-width="1"/>
<g class="t">
<g font-size="17.32"><text x="145.16" y="1066.60" textLength="9.05" lengthAdjust="spacingAndGlyphs">5</text><text x="155.43" y="1066.60" textLength="7.22" lengthAdjust="spacingAndGlyphs">°</text><text x="163.57" y="1066.60" textLength="9.45" lengthAdjust="spacingAndGlyphs">E</text></g>
<g font-size="17.32"><text x="322.36" y="1066.60" textLength="9.05" lengthAdjust="spacingAndGlyphs">5</text><text x="332.28" y="1066.60" textLength="4.92" lengthAdjust="spacingAndGlyphs">.</text><text x="337.96" y="1066.60" textLength="9.05" lengthAdjust="spacingAndGlyphs">5</text><text x="348.23" y="1066.60" textLength="7.22" lengthAdjust="spacingAndGlyphs">°</text><text x="356.37" y="1066.60" textLength="9.45" lengthAdjust="spacingAndGlyphs">E</text></g>
<g font-size="17.32"><text x="514.78" y="1066.60" textLength="9.92" lengthAdjust="spacingAndGlyphs">6</text><text x="525.43" y="1066.60" textLength="7.22" lengthAdjust="spacingAndGlyphs">°</text><text x="533.57" y="1066.60" textLength="9.45" lengthAdjust="spacingAndGlyphs">E</text></g>
<g font-size="17.32"><text x="691.98" y="1066.60" textLength="9.92" lengthAdjust="spacingAndGlyphs">6</text><text x="702.28" y="1066.60" textLength="4.92" lengthAdjust="spacingAndGlyphs">.</text><text x="707.96" y="1066.60" textLength="9.05" lengthAdjust="spacingAndGlyphs">5</text><text x="718.23" y="1066.60" textLength="7.22" lengthAdjust="spacingAndGlyphs">°</text><text x="726.37" y="1066.60" textLength="9.45" lengthAdjust="spacingAndGlyphs">E</text></g>
<g font-size="17.32"><text x="885.02" y="1066.60" textLength="9.38" lengthAdjust="spacingAndGlyphs">7</text><text x="895.43" y="1066.60" textLength="7.22" lengthAdjust="spacingAndGlyphs">°</text><text x="903.57" y="1066.60" textLength="9.45" lengthAdjust="spacingAndGlyphs">E</text></g>
<g font-size="17.32"><text x="20.80" y="165.80" textLength="9.05" lengthAdjust="spacingAndGlyphs">5</text><text x="31.00" y="165.80" textLength="9.59" lengthAdjust="spacingAndGlyphs">0</text><text x="41.13" y="165.80" textLength="4.92" lengthAdjust="spacingAndGlyphs">.</text><text x="46.80" y="165.80" textLength="9.05" lengthAdjust="spacingAndGlyphs">5</text><text x="57.08" y="165.80" textLength="7.22" lengthAdjust="spacingAndGlyphs">°</text><text x="65.05" y="165.80" textLength="11.66" lengthAdjust="spacingAndGlyphs">N</text></g>
<g font-size="17.32"><text x="10.40" y="310.50" textLength="9.05" lengthAdjust="spacingAndGlyphs">5</text><text x="20.60" y="310.50" textLength="9.59" lengthAdjust="spacingAndGlyphs">0</text><text x="30.73" y="310.50" textLength="4.92" lengthAdjust="spacingAndGlyphs">.</text><text x="36.15" y="310.50" textLength="9.24" lengthAdjust="spacingAndGlyphs">2</text><text x="46.80" y="310.50" textLength="9.05" lengthAdjust="spacingAndGlyphs">5</text><text x="57.08" y="310.50" textLength="7.22" lengthAdjust="spacingAndGlyphs">°</text><text x="65.05" y="310.50" textLength="11.66" lengthAdjust="spacingAndGlyphs">N</text></g>
<g font-size="17.32"><text x="36.40" y="454.50" textLength="9.05" lengthAdjust="spacingAndGlyphs">5</text><text x="46.60" y="454.50" textLength="9.59" lengthAdjust="spacingAndGlyphs">0</text><text x="57.08" y="454.50" textLength="7.22" lengthAdjust="spacingAndGlyphs">°</text><text x="65.05" y="454.50" textLength="11.66" lengthAdjust="spacingAndGlyphs">N</text></g>
<g font-size="17.32"><text x="10.19" y="597.60" textLength="9.59" lengthAdjust="spacingAndGlyphs">4</text><text x="20.39" y="597.60" textLength="9.90" lengthAdjust="spacingAndGlyphs">9</text><text x="30.73" y="597.60" textLength="4.92" lengthAdjust="spacingAndGlyphs">.</text><text x="36.27" y="597.60" textLength="9.38" lengthAdjust="spacingAndGlyphs">7</text><text x="46.80" y="597.60" textLength="9.05" lengthAdjust="spacingAndGlyphs">5</text><text x="57.08" y="597.60" textLength="7.22" lengthAdjust="spacingAndGlyphs">°</text><text x="65.05" y="597.60" textLength="11.66" lengthAdjust="spacingAndGlyphs">N</text></g>
<g font-size="17.32"><text x="20.59" y="739.50" textLength="9.59" lengthAdjust="spacingAndGlyphs">4</text><text x="30.79" y="739.50" textLength="9.90" lengthAdjust="spacingAndGlyphs">9</text><text x="41.13" y="739.50" textLength="4.92" lengthAdjust="spacingAndGlyphs">.</text><text x="46.80" y="739.50" textLength="9.05" lengthAdjust="spacingAndGlyphs">5</text><text x="57.08" y="739.50" textLength="7.22" lengthAdjust="spacingAndGlyphs">°</text><text x="65.05" y="739.50" textLength="11.66" lengthAdjust="spacingAndGlyphs">N</text></g>
<g font-size="17.32"><text x="10.19" y="881.60" textLength="9.59" lengthAdjust="spacingAndGlyphs">4</text><text x="20.39" y="881.60" textLength="9.90" lengthAdjust="spacingAndGlyphs">9</text><text x="30.73" y="881.60" textLength="4.92" lengthAdjust="spacingAndGlyphs">.</text><text x="36.15" y="881.60" textLength="9.24" lengthAdjust="spacingAndGlyphs">2</text><text x="46.80" y="881.60" textLength="9.05" lengthAdjust="spacingAndGlyphs">5</text><text x="57.08" y="881.60" textLength="7.22" lengthAdjust="spacingAndGlyphs">°</text><text x="65.05" y="881.60" textLength="11.66" lengthAdjust="spacingAndGlyphs">N</text></g>
<g font-size="17.32"><text x="36.19" y="1022.80" textLength="9.59" lengthAdjust="spacingAndGlyphs">4</text><text x="46.39" y="1022.80" textLength="9.90" lengthAdjust="spacingAndGlyphs">9</text><text x="57.08" y="1022.80" textLength="7.22" lengthAdjust="spacingAndGlyphs">°</text><text x="65.05" y="1022.80" textLength="11.66" lengthAdjust="spacingAndGlyphs">N</text></g>
<g font-size="36.79"><text x="353.30" y="37.40" textLength="19.62" lengthAdjust="spacingAndGlyphs">2</text><text x="375.03" y="37.40" textLength="21.02" lengthAdjust="spacingAndGlyphs">9</text><text x="396.97" y="37.40" textLength="10.44" lengthAdjust="spacingAndGlyphs">.</text><text x="408.58" y="37.40" textLength="20.35" lengthAdjust="spacingAndGlyphs">0</text><text x="430.21" y="37.40" textLength="21.02" lengthAdjust="spacingAndGlyphs">9</text><text x="452.16" y="37.40" textLength="10.44" lengthAdjust="spacingAndGlyphs">.</text><text x="463.67" y="37.40" textLength="19.62" lengthAdjust="spacingAndGlyphs">2</text><text x="485.84" y="37.40" textLength="20.35" lengthAdjust="spacingAndGlyphs">0</text><text x="507.83" y="37.40" textLength="19.62" lengthAdjust="spacingAndGlyphs">2</text><text x="530.43" y="37.40" textLength="19.21" lengthAdjust="spacingAndGlyphs">5</text><text x="563.40" y="37.40" textLength="19.44" lengthAdjust="spacingAndGlyphs">1</text><text x="585.18" y="37.40" textLength="20.36" lengthAdjust="spacingAndGlyphs">4</text><text x="607.04" y="37.40" textLength="10.44" lengthAdjust="spacingAndGlyphs">:</text><text x="618.86" y="37.40" textLength="19.62" lengthAdjust="spacingAndGlyphs">2</text><text x="641.46" y="37.40" textLength="19.21" lengthAdjust="spacingAndGlyphs">5</text><text x="673.66" y="37.40" textLength="24.64" lengthAdjust="spacingAndGlyphs">U</text><text x="697.72" y="37.40" textLength="23.13" lengthAdjust="spacingAndGlyphs">T</text><text x="720.18" y="37.40" textLength="23.28" lengthAdjust="spacingAndGlyphs">C</text></g>
<rect x="97.7" y="53.3" width="218.1" height="49.9" fill="#fff" fill-opacity="0.8" stroke="#000" stroke-width="1.2"/>
<g font-size="17.66"><text x="103.13" y="73.00" textLength="9.83" lengthAdjust="spacingAndGlyphs">P</text><text x="112.84" y="73.00" textLength="7.11" lengthAdjust="spacingAndGlyphs">r</text><text x="119.47" y="73.00" textLength="9.86" lengthAdjust="spacingAndGlyphs">o</text><text x="129.27" y="73.00" textLength="10.08" lengthAdjust="spacingAndGlyphs">d</text><text x="139.93" y="73.00" textLength="10.00" lengthAdjust="spacingAndGlyphs">u</text><text x="150.44" y="73.00" textLength="8.36" lengthAdjust="spacingAndGlyphs">c</text><text x="159.50" y="73.00" textLength="6.19" lengthAdjust="spacingAndGlyphs">t</text><text x="166.22" y="73.00" textLength="5.01" lengthAdjust="spacingAndGlyphs">:</text><text x="177.23" y="73.00" textLength="9.77" lengthAdjust="spacingAndGlyphs">0</text><text x="187.55" y="73.00" textLength="5.01" lengthAdjust="spacingAndGlyphs">.</text><text x="193.06" y="73.00" textLength="9.88" lengthAdjust="spacingAndGlyphs">8</text><text x="203.79" y="73.00" textLength="7.36" lengthAdjust="spacingAndGlyphs">°</text><text x="217.24" y="73.00" textLength="11.51" lengthAdjust="spacingAndGlyphs">R</text><text x="228.64" y="73.00" textLength="10.01" lengthAdjust="spacingAndGlyphs">e</text><text x="238.05" y="73.00" textLength="6.08" lengthAdjust="spacingAndGlyphs">f</text><text x="244.26" y="73.00" textLength="3.79" lengthAdjust="spacingAndGlyphs">l</text><text x="248.62" y="73.00" textLength="10.01" lengthAdjust="spacingAndGlyphs">e</text><text x="258.92" y="73.00" textLength="8.36" lengthAdjust="spacingAndGlyphs">c</text><text x="267.97" y="73.00" textLength="6.19" lengthAdjust="spacingAndGlyphs">t</text><text x="274.82" y="73.00" textLength="3.79" lengthAdjust="spacingAndGlyphs">i</text><text x="279.45" y="73.00" textLength="9.00" lengthAdjust="spacingAndGlyphs">v</text><text x="289.30" y="73.00" textLength="3.79" lengthAdjust="spacingAndGlyphs">i</text><text x="293.61" y="73.00" textLength="6.19" lengthAdjust="spacingAndGlyphs">t</text><text x="300.48" y="73.00" textLength="8.95" lengthAdjust="spacingAndGlyphs">y</text></g>
<g font-size="17.66"><text x="102.92" y="92.90" textLength="12.46" lengthAdjust="spacingAndGlyphs">D</text><text x="115.89" y="92.90" textLength="8.34" lengthAdjust="spacingAndGlyphs">a</text><text x="125.83" y="92.90" textLength="6.19" lengthAdjust="spacingAndGlyphs">t</text><text x="132.62" y="92.90" textLength="8.34" lengthAdjust="spacingAndGlyphs">a</text><text x="142.76" y="92.90" textLength="5.01" lengthAdjust="spacingAndGlyphs">:</text><text x="153.58" y="92.90" textLength="12.46" lengthAdjust="spacingAndGlyphs">D</text><text x="166.66" y="92.90" textLength="15.51" lengthAdjust="spacingAndGlyphs">W</text><text x="182.86" y="92.90" textLength="12.46" lengthAdjust="spacingAndGlyphs">D</text></g>
<rect x="1068.5" y="964.32" width="45.0" height="32.48" fill="#6675A8"/>
<rect x="1068.5" y="932.14" width="45.0" height="32.48" fill="#5268A2"/>
<rect x="1068.5" y="899.96" width="45.0" height="32.48" fill="#4560A3"/>
<rect x="1068.5" y="867.79" width="45.0" height="32.48" fill="#4E7DB4"/>
<rect x="1068.5" y="835.61" width="45.0" height="32.48" fill="#5A9FC8"/>
<rect x="1068.5" y="803.43" width="45.0" height="32.48" fill="#67C2DE"/>
<rect x="1068.5" y="771.25" width="45.0" height="32.48" fill="#63D8C3"/>
<rect x="1068.5" y="739.07" width="45.0" height="32.48" fill="#3DD66E"/>
<rect x="1068.5" y="706.89" width="45.0" height="32.48" fill="#10C81E"/>
<rect x="1068.5" y="674.71" width="45.0" height="32.48" fill="#10B81C"/>
<rect x="1068.5" y="642.54" width="45.0" height="32.48" fill="#10A418"/>
<rect x="1068.5" y="610.36" width="45.0" height="32.48" fill="#0C8E14"/>
<rect x="1068.5" y="578.18" width="45.0" height="32.48" fill="#0A7610"/>
<rect x="1068.5" y="546.00" width="45.0" height="32.48" fill="#08600C"/>
<rect x="1068.5" y="513.82" width="45.0" height="32.48" fill="#447A0A"/>
<rect x="1068.5" y="481.64" width="45.0" height="32.48" fill="#B0B00A"/>
<rect x="1068.5" y="449.46" width="45.0" height="32.48" fill="#FFD800"/>
<rect x="1068.5" y="417.29" width="45.0" height="32.48" fill="#FFB400"/>
<rect x="1068.5" y="385.11" width="45.0" height="32.48" fill="#FF9600"/>
<rect x="1068.5" y="352.93" width="45.0" height="32.48" fill="#FF7A00"/>
<rect x="1068.5" y="320.75" width="45.0" height="32.48" fill="#E60000"/>
<rect x="1068.5" y="288.57" width="45.0" height="32.48" fill="#C00000"/>
<rect x="1068.5" y="256.39" width="45.0" height="32.48" fill="#9E0000"/>
<rect x="1068.5" y="224.21" width="45.0" height="32.48" fill="#780000"/>
<rect x="1068.5" y="192.04" width="45.0" height="32.48" fill="#FFDCFF"/>
<rect x="1068.5" y="159.86" width="45.0" height="32.48" fill="#FFB0FF"/>
<rect x="1068.5" y="127.68" width="45.0" height="32.48" fill="#FF64FF"/>
<rect x="1068.5" y="95.50" width="45.0" height="32.48" fill="#EB30EB"/>
<rect x="1068.5" y="95.5" width="45.0" height="901.0" fill="none" stroke="#000" stroke-width="1"/>
<path d="M1113.5 996.50h5" stroke="#000" stroke-width="1"/>
<g font-size="29.44"><text x="1123.39" y="1006.60" textLength="16.29" lengthAdjust="spacingAndGlyphs">0</text></g>
<path d="M1113.5 867.79h5" stroke="#000" stroke-width="1"/>
<g font-size="29.44"><text x="1123.62" y="877.89" textLength="15.55" lengthAdjust="spacingAndGlyphs">1</text><text x="1141.07" y="877.89" textLength="16.29" lengthAdjust="spacingAndGlyphs">0</text></g>
<path d="M1113.5 739.07h5" stroke="#000" stroke-width="1"/>
<g font-size="29.44"><text x="1123.32" y="749.17" textLength="15.70" lengthAdjust="spacingAndGlyphs">2</text><text x="1141.07" y="749.17" textLength="16.29" lengthAdjust="spacingAndGlyphs">0</text></g>
<path d="M1113.5 610.36h5" stroke="#000" stroke-width="1"/>
<g font-size="29.44"><text x="1123.74" y="620.46" textLength="15.64" lengthAdjust="spacingAndGlyphs">3</text><text x="1141.07" y="620.46" textLength="16.29" lengthAdjust="spacingAndGlyphs">0</text></g>
<path d="M1113.5 481.64h5" stroke="#000" stroke-width="1"/>
<g font-size="29.44"><text x="1123.38" y="491.74" textLength="16.29" lengthAdjust="spacingAndGlyphs">4</text><text x="1141.07" y="491.74" textLength="16.29" lengthAdjust="spacingAndGlyphs">0</text></g>
<path d="M1113.5 352.93h5" stroke="#000" stroke-width="1"/>
<g font-size="29.44"><text x="1123.74" y="363.03" textLength="15.37" lengthAdjust="spacingAndGlyphs">5</text><text x="1141.07" y="363.03" textLength="16.29" lengthAdjust="spacingAndGlyphs">0</text></g>
<path d="M1113.5 224.21h5" stroke="#000" stroke-width="1"/>
<g font-size="29.44"><text x="1123.10" y="234.31" textLength="16.86" lengthAdjust="spacingAndGlyphs">6</text><text x="1141.07" y="234.31" textLength="16.29" lengthAdjust="spacingAndGlyphs">0</text></g>
<path d="M1113.5 95.50h5" stroke="#000" stroke-width="1"/>
<g font-size="29.44"><text x="1123.51" y="105.60" textLength="15.93" lengthAdjust="spacingAndGlyphs">7</text><text x="1141.07" y="105.60" textLength="16.29" lengthAdjust="spacingAndGlyphs">0</text></g>
<g font-size="29.44" transform="translate(1187,575.5) rotate(-90)"><text x="0.26" y="0.00" textLength="16.79" lengthAdjust="spacingAndGlyphs">d</text><text x="18.16" y="0.00" textLength="18.00" lengthAdjust="spacingAndGlyphs">B</text><text x="37.01" y="0.00" textLength="18.44" lengthAdjust="spacingAndGlyphs">Z</text></g>
</g>
</svg></body></html>
